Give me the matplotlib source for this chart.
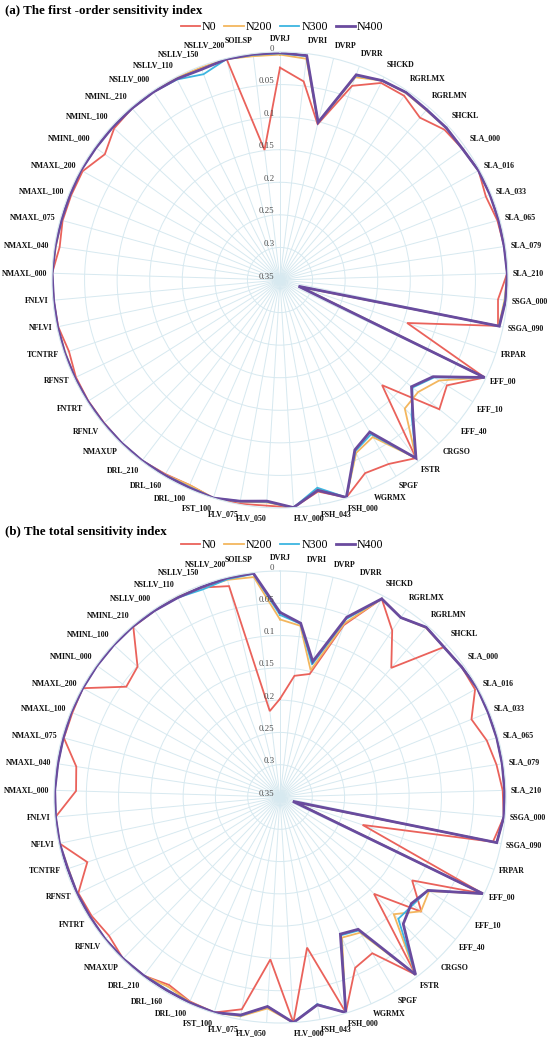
import numpy as np
import matplotlib.pyplot as plt

plt.rcParams['font.family'] = ['Liberation Serif', 'DejaVu Serif']

# parameter names, clockwise from the top
categories = ['DVRJ', 'DVRI', 'DVRP', 'DVRR', 'SHCKD', 'RGRLMX', 'RGRLMN', 'SHCKL',
              'SLA_000', 'SLA_016', 'SLA_033', 'SLA_065', 'SLA_079', 'SLA_210',
              'SSGA_000', 'SSGA_090', 'FRPAR', 'EFF_00', 'EFF_10', 'EFF_40', 'CRGSO',
              'FSTR', 'SPGF', 'WGRMX', 'FSH_000', 'FSH_043', 'FLV_000', 'FLV_050',
              'FLV_075', 'FST_100', 'DRL_100', 'DRL_160', 'DRL_210', 'NMAXUP', 'RFNLV',
              'FNTRT', 'RFNST', 'TCNTRF', 'NFLVI', 'FNLVI', 'NMAXL_000', 'NMAXL_040',
              'NMAXL_075', 'NMAXL_100', 'NMAXL_200', 'NMINL_000', 'NMINL_100',
              'NMINL_210', 'NSLLV_000', 'NSLLV_110', 'NSLLV_150', 'NSLLV_200', 'SOILSP']

series_names = ['N0', 'N200', 'N300', 'N400']
colors = ['#EA625B', '#F3B65E', '#3DB5E0', '#6A4B9E']
widths = [1.3, 1.3, 1.3, 2.0]

# (a) first-order index
s1_n0 = [0.024, 0.043, 0.104, 0.032, 0.010, 0.009, 0.021, 0.008, 0.005, 0.002, 0.009,
         0.004, 0.002, 0.001, 0.014, 0.008, 0.144, 0.002, 0.047, 0.035, 0.125, 0.006,
         0.022, 0.026, 0.001, 0.020, 0.000, 0.003, 0.001, 0.000, 0.006, 0.004, 0.001,
         0.001, 0.002, 0.002, 0.003, 0.008, 0.002, 0.001, 0.000, 0.008, 0.004, 0.004,
         0.004, 0.019, 0.005, 0.002, 0.002, 0.003, 0.003, 0.001, 0.149]
s1_n200 = [0.004, 0.008, 0.101, 0.018, 0.006, 0.004, 0.006, 0.004, 0.005, 0.002, 0.002,
           0.002, 0.000, 0.001, 0.004, 0.007, 0.315, 0.002, 0.061, 0.077, 0.075, 0.006,
           0.070, 0.060, 0.001, 0.024, 0.000, 0.008, 0.004, 0.000, 0.006, 0.003, 0.001,
           0.001, 0.001, 0.001, 0.001, 0.002, 0.001, 0.001, 0.000, 0.002, 0.002, 0.002,
           0.001, 0.002, 0.002, 0.002, 0.002, 0.001, 0.002, 0.001, 0.004]
s1_n300 = [0.002, 0.004, 0.101, 0.015, 0.006, 0.003, 0.005, 0.004, 0.005, 0.002, 0.002,
           0.002, 0.002, 0.001, 0.003, 0.006, 0.319, 0.002, 0.070, 0.088, 0.060, 0.006,
           0.075, 0.063, 0.001, 0.026, 0.000, 0.009, 0.005, 0.000, 0.003, 0.002, 0.001,
           0.001, 0.001, 0.001, 0.001, 0.001, 0.001, 0.001, 0.000, 0.001, 0.002, 0.002,
           0.001, 0.002, 0.002, 0.002, 0.002, 0.004, 0.013, 0.001, 0.002]
s1_n400 = [0.001, 0.003, 0.101, 0.014, 0.006, 0.003, 0.005, 0.004, 0.005, 0.002, 0.002,
           0.002, 0.002, 0.001, 0.002, 0.006, 0.320, 0.002, 0.072, 0.090, 0.057, 0.006,
           0.079, 0.065, 0.001, 0.022, 0.000, 0.010, 0.005, 0.000, 0.002, 0.002, 0.001,
           0.001, 0.001, 0.001, 0.001, 0.001, 0.001, 0.001, 0.000, 0.001, 0.002, 0.002,
           0.001, 0.002, 0.002, 0.002, 0.002, 0.003, 0.005, 0.001, 0.001]

# (b) total index
st_n0 = [0.198, 0.161, 0.154, 0.066, 0.005, 0.039, 0.086, 0.006, 0.004, 0.005, 0.030,
         0.018, 0.011, 0.005, 0.002, 0.013, 0.215, 0.002, 0.108, 0.068, 0.141, 0.004,
         0.069, 0.061, 0.001, 0.113, 0.000, 0.098, 0.016, 0.001, 0.004, 0.012, 0.002,
         0.001, 0.009, 0.005, 0.004, 0.035, 0.001, 0.001, 0.034, 0.031, 0.003, 0.003,
         0.001, 0.057, 0.051, 0.002, 0.002, 0.002, 0.004, 0.014, 0.216]
st_n200 = [0.075, 0.083, 0.148, 0.063, 0.005, 0.015, 0.004, 0.006, 0.004, 0.001, 0.002,
           0.002, 0.002, 0.002, 0.002, 0.007, 0.325, 0.002, 0.077, 0.069, 0.097, 0.004,
           0.106, 0.112, 0.001, 0.023, 0.000, 0.022, 0.005, 0.001, 0.003, 0.009, 0.002,
           0.001, 0.001, 0.002, 0.002, 0.004, 0.001, 0.001, 0.001, 0.002, 0.002, 0.001,
           0.001, 0.001, 0.001, 0.001, 0.002, 0.002, 0.003, 0.004, 0.007]
st_n300 = [0.068, 0.080, 0.139, 0.056, 0.005, 0.015, 0.003, 0.006, 0.004, 0.001, 0.002,
           0.002, 0.002, 0.002, 0.002, 0.007, 0.328, 0.002, 0.079, 0.085, 0.087, 0.004,
           0.110, 0.116, 0.001, 0.024, 0.000, 0.025, 0.006, 0.001, 0.002, 0.004, 0.002,
           0.001, 0.001, 0.002, 0.002, 0.003, 0.001, 0.001, 0.001, 0.002, 0.002, 0.001,
           0.001, 0.001, 0.001, 0.001, 0.002, 0.003, 0.007, 0.003, 0.002]
st_n400 = [0.064, 0.079, 0.134, 0.053, 0.005, 0.015, 0.003, 0.006, 0.004, 0.001, 0.002,
           0.002, 0.002, 0.002, 0.002, 0.007, 0.329, 0.002, 0.079, 0.088, 0.076, 0.004,
           0.112, 0.118, 0.001, 0.023, 0.000, 0.025, 0.007, 0.001, 0.002, 0.003, 0.002,
           0.001, 0.001, 0.002, 0.002, 0.003, 0.001, 0.001, 0.001, 0.002, 0.002, 0.001,
           0.001, 0.001, 0.001, 0.001, 0.002, 0.003, 0.003, 0.001, 0.001]

r_ticks = [0, 0.05, 0.1, 0.15, 0.2, 0.25, 0.3, 0.35]
r_tick_labels = ['0', '0.05', '0.1', '0.15', '0.2', '0.25', '0.3', '0.35']

grid_color = '#D7E9F0'

W, H = 550, 1039
fig = plt.figure(figsize=(W / 100, H / 100), dpi=100)


def px_box(cx, cy, r):
    return [(cx - r) / W, 1 - (cy + r) / H, 2 * r / W, 2 * r / H]


def draw_panel(ax, series):
    n = len(categories)
    angles = np.arange(n) * 2 * np.pi / n
    ax.set_theta_zero_location('N')
    ax.set_theta_direction(-1)
    ax.set_ylim(0.35, 0)

    lines = []
    for vals, name, c, lw in zip(series, series_names, colors, widths):
        a = np.append(angles, angles[0])
        v = np.append(vals, vals[0])
        ln, = ax.plot(a, v, color=c, lw=lw, label=name, solid_joinstyle='miter')
        lines.append(ln)

    ax.set_xticks(angles)
    ax.set_xticklabels([])
    ax.set_yticks(r_ticks[1:-1])
    ax.set_yticklabels([])
    ax.grid(color=grid_color, lw=0.7)
    ax.spines['polar'].set_color(grid_color)
    ax.spines['polar'].set_linewidth(0.8)
    ax.tick_params(length=0)

    # radial value labels along the top spoke
    for v, lab in zip(r_ticks, r_tick_labels):
        ax.annotate(lab, xy=(0, v), xytext=(-4, 2.5), textcoords='offset points',
                    ha='right', va='center', fontsize=6.3, color='#4a4a4a',
                    annotation_clip=False)

    # category labels outside the circle
    for ang, name in zip(angles, categories):
        s, c = np.sin(ang), np.cos(ang)
        ha = 'left' if s > 0.02 else ('right' if s < -0.02 else 'center')
        va = 'bottom' if c > 0.5 else ('top' if c < -0.5 else 'center')
        pad_y = 6.5 if c > 0 else 4.5
        ax.annotate(name, xy=(ang, 0), xytext=(3.5 * s, pad_y * c),
                    textcoords='offset points', ha=ha, va=va, fontsize=5.7,
                    fontweight='bold', color='#111111', annotation_clip=False)
    return lines


ax_a = fig.add_axes(px_box(280, 280, 228), projection='polar')
lines_a = draw_panel(ax_a, [s1_n0, s1_n200, s1_n300, s1_n400])
ax_b = fig.add_axes(px_box(280, 797, 226), projection='polar')
lines_b = draw_panel(ax_b, [st_n0, st_n200, st_n300, st_n400])

fig.text(5 / W, 1 - 11 / H, '(a) The first -order sensitivity index',
         fontsize=9.4, fontweight='bold', va='center', ha='left')
fig.text(5 / W, 1 - 532 / H, '(b) The total sensitivity index',
         fontsize=9.4, fontweight='bold', va='center', ha='left')

for lines, y in [(lines_a, 27), (lines_b, 545)]:
    fig.legend(lines, series_names, loc='center', bbox_to_anchor=(282 / W, 1 - y / H),
               ncol=4, frameon=False, fontsize=8.6, handlelength=1.6,
               handletextpad=0.15, columnspacing=0.7, borderpad=0)

fig.savefig('out.png', dpi=100)
